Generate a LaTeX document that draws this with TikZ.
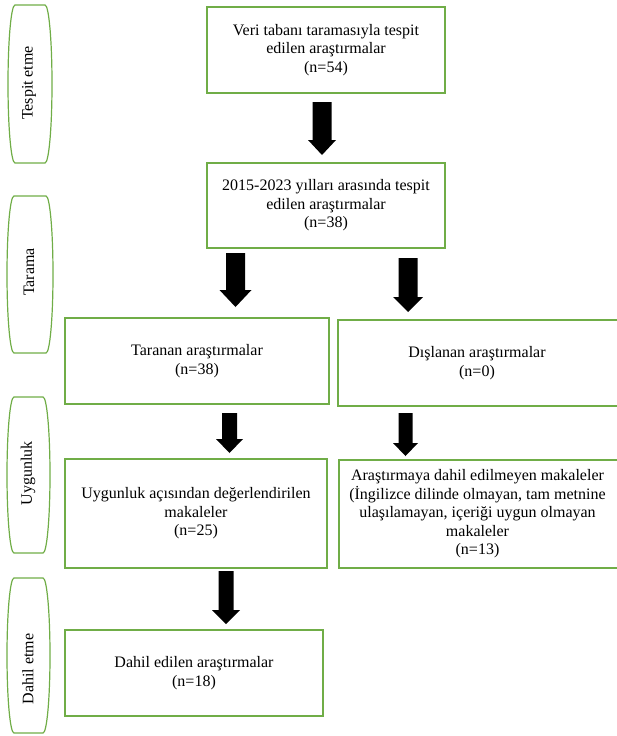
\documentclass[tikz,border=0pt]{standalone}
\usepackage{fontspec}
\setmainfont{Liberation Serif}
\usetikzlibrary{calc}
\definecolor{boxgreen}{RGB}{112,173,71}
\newcommand\pillshape[4]{%
  \pgfmathsetmacro\pillym{(#2+#4)/2}%
  \pgfmathsetmacro\pillk{0.5523*(#4-#2)/2}%
  \draw[pill] (#1+7,#2) -- (#3-7,#2)
    .. controls (#3-3.13,#2) and (#3,\pillym-\pillk) .. (#3,\pillym)
    .. controls (#3,\pillym+\pillk) and (#3-3.13,#4) .. (#3-7,#4)
    -- (#1+7,#4)
    .. controls (#1+3.13,#4) and (#1,\pillym+\pillk) .. (#1,\pillym)
    .. controls (#1,\pillym-\pillk) and (#1+3.13,#2) .. (#1+7,#2) -- cycle;}
% #1 from, #2 to, #3 shaft half width, #4 head half width, #5 head length
\newcommand\blkarrow[5]{%
  \fill[black] let \p1=(#1), \p2=(#2) in
    (\x1-#3pt,\y1) -- (\x1+#3pt,\y1) -- (\x1+#3pt,\y2+#5pt) -- (\x1+#4pt,\y2+#5pt)
    -- (\x2,\y2) -- (\x1-#4pt,\y2+#5pt) -- (\x1-#3pt,\y2+#5pt) -- cycle;}
\begin{document}
\begin{tikzpicture}[x=1pt,y=-1pt,
  box/.style={draw=boxgreen, line width=1.2pt, align=center, inner sep=0pt,
    font=\fontsize{16}{18.5}\selectfont},
  boxtext/.style={align=center, inner sep=0pt,
    font=\fontsize{16}{18.5}\selectfont},
  pill/.style={draw=boxgreen, line width=1.2pt},
  pilltext/.style={rotate=90, inner sep=0pt, font=\fontsize{16}{18.5}\selectfont}]
\useasboundingbox (0,0) rectangle (617,736);

% phase pills
\pillshape{8}{5}{52}{163}
\node[pilltext] (p1) at (29,83) {Tespit etme};
\pillshape{7}{196}{53}{353}
\node[pilltext] (p2) at (29,272) {Tarama};
\pillshape{7}{397}{50}{553}
\node[pilltext] (p3) at (28,473) {Uygunluk};
\pillshape{7}{578}{50}{733}
\node[pilltext] (p4) at (28,669) {Dahil etme};

% boxes
\node[box, minimum width=238pt, minimum height=86pt] (b1) at (326,50)
  {Veri tabanı taramasıyla tespit\\edilen araştırmalar\\(n=54)};
\node[box, minimum width=238pt, minimum height=85pt] (b2) at (326,205.5)
  {2015-2023 yılları arasında tespit\\edilen araştırmalar\\(n=38)};
\node[box, minimum width=264pt, minimum height=86pt] (b3) at (197,361)
  {Taranan araştırmalar\\(n=38)};
\node[box, minimum width=290pt, minimum height=86pt] (b4) at (483,363) {};
\node[boxtext] (t4) at (477,363) {Dışlanan araştırmalar\\(n=0)};
\node[box, minimum width=262pt, minimum height=109pt] (b5) at (196,513.5)
  {Uygunluk açısından değerlendirilen\\makaleler\\(n=25)};
\node[box, minimum width=289pt, minimum height=108pt] (b6) at (483.5,514) {};
\node[boxtext] (t6) at (477.5,514)
  {Araştırmaya dahil edilmeyen makaleler\\(İngilizce dilinde olmayan, tam metnine\\ulaşılamayan, içeriği uygun olmayan\\makaleler\\(n=13)};
\node[box, minimum width=258pt, minimum height=86pt] (b7) at (194,673)
  {Dahil edilen araştırmalar\\(n=18)};

% arrow end points
\coordinate (a1s) at (322,102);   \coordinate (a1e) at (322,155);
\coordinate (a2s) at (235.5,253); \coordinate (a2e) at (235.5,307);
\coordinate (a3s) at (408,258);   \coordinate (a3e) at (408,312);
\coordinate (a4s) at (229.5,413); \coordinate (a4e) at (229.5,453);
\coordinate (a5s) at (405.5,413); \coordinate (a5e) at (405.5,456);
\coordinate (a6s) at (226,571);   \coordinate (a6e) at (226,624);

\blkarrow{a1s}{a1e}{9.5}{14}{15}
\blkarrow{a2s}{a2e}{9.5}{16}{17}
\blkarrow{a3s}{a3e}{9.5}{15}{15}
\blkarrow{a4s}{a4e}{7.5}{13.5}{14}
\blkarrow{a5s}{a5e}{7}{12.5}{13}
\blkarrow{a6s}{a6e}{7.5}{14}{14}
\end{tikzpicture}
\end{document}
